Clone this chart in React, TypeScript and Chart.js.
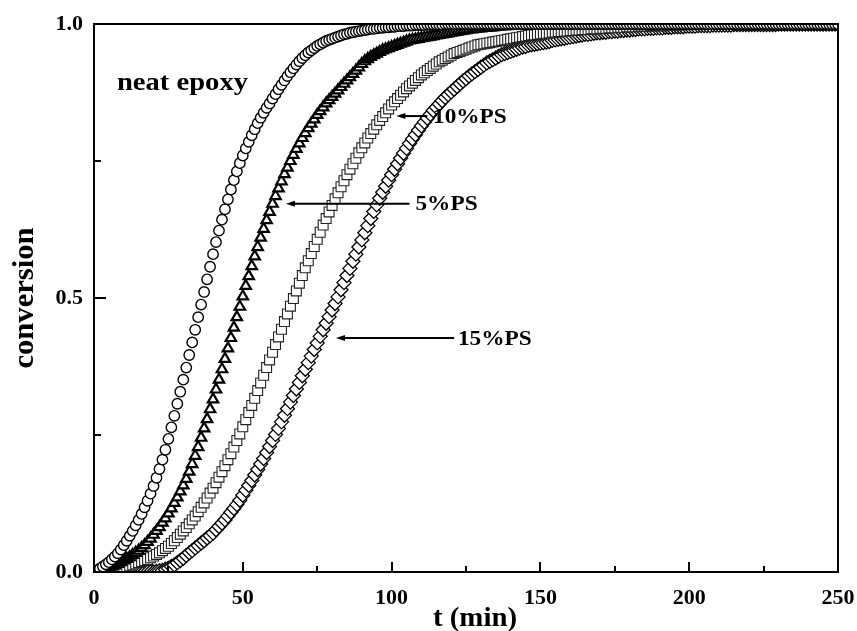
import React, { useEffect, useRef } from 'react';
import { Chart, registerables } from 'chart.js';

Chart.register(...registerables);

// sampling grid: one reading per minute, 0..250 min
const times = Array.from({ length: 251 }, (_, i) => i);

const xTickValues = [0, 50, 100, 150, 200, 250];
const xMinorTicks = [25, 75, 125, 175, 225];
const yTickValues = [0, 0.5, 1];
const yMinorTicks = [0.25, 0.75];

const neatEpoxy = [
  0.000, 0.003, 0.006, 0.010, 0.014, 0.018, 0.023, 0.028, 0.034, 0.041,
  0.049, 0.057, 0.066, 0.075, 0.085, 0.095, 0.106, 0.118, 0.130, 0.143,
  0.157, 0.172, 0.188, 0.205, 0.223, 0.243, 0.264, 0.285, 0.307, 0.329,
  0.351, 0.373, 0.396, 0.419, 0.442, 0.465, 0.488, 0.511, 0.534, 0.557,
  0.580, 0.602, 0.623, 0.643, 0.662, 0.680, 0.698, 0.715, 0.731, 0.746,
  0.760, 0.773, 0.785, 0.797, 0.808, 0.819, 0.829, 0.838, 0.847, 0.855,
  0.864, 0.872, 0.881, 0.889, 0.897, 0.905, 0.912, 0.919, 0.926, 0.932,
  0.938, 0.943, 0.948, 0.952, 0.956, 0.960, 0.963, 0.966, 0.969, 0.971,
  0.973, 0.975, 0.977, 0.979, 0.981, 0.982, 0.984, 0.985, 0.986, 0.987,
  0.988, 0.989, 0.990, 0.991, 0.991, 0.992, 0.993, 0.993, 0.994, 0.994,
  0.995, 0.995, 0.996, 0.996, 0.996, 0.997, 0.997, 0.997, 0.998, 0.998,
  0.998, 0.998, 0.999, 0.999, 0.999, 0.999, 0.999, 0.999, 1, 1,
  1, 1, 1, 1, 1, 1, 1, 1, 1, 1,
  1, 1, 1, 1, 1, 1, 1, 1, 1, 1,
  1, 1, 1, 1, 1, 1, 1, 1, 1, 1,
  1, 1, 1, 1, 1, 1, 1, 1, 1, 1,
  1, 1, 1, 1, 1, 1, 1, 1, 1, 1,
  1, 1, 1, 1, 1, 1, 1, 1, 1, 1,
  1, 1, 1, 1, 1, 1, 1, 1, 1, 1,
  1, 1, 1, 1, 1, 1, 1, 1, 1, 1,
  1, 1, 1, 1, 1, 1, 1, 1, 1, 1,
  1, 1, 1, 1, 1, 1, 1, 1, 1, 1,
  1, 1, 1, 1, 1, 1, 1, 1, 1, 1,
  1, 1, 1, 1, 1, 1, 1, 1, 1, 1,
  1, 1, 1, 1, 1, 1, 1, 1, 1, 1,
  1,
];

const ps5 = [
  0.000, 0.001, 0.002, 0.004, 0.006, 0.008, 0.010, 0.012, 0.015, 0.018,
  0.021, 0.024, 0.027, 0.031, 0.035, 0.039, 0.044, 0.049, 0.055, 0.061,
  0.068, 0.075, 0.082, 0.090, 0.098, 0.107, 0.116, 0.126, 0.136, 0.147,
  0.158, 0.170, 0.183, 0.197, 0.212, 0.228, 0.245, 0.262, 0.279, 0.297,
  0.315, 0.333, 0.351, 0.370, 0.389, 0.408, 0.427, 0.446, 0.465, 0.484,
  0.503, 0.522, 0.540, 0.558, 0.576, 0.593, 0.610, 0.626, 0.642, 0.657,
  0.672, 0.686, 0.700, 0.713, 0.726, 0.738, 0.750, 0.761, 0.772, 0.782,
  0.792, 0.801, 0.810, 0.818, 0.826, 0.834, 0.841, 0.848, 0.855, 0.861,
  0.867, 0.873, 0.879, 0.885, 0.891, 0.897, 0.903, 0.909, 0.915, 0.921,
  0.927, 0.932, 0.936, 0.940, 0.943, 0.946, 0.949, 0.952, 0.954, 0.956,
  0.958, 0.960, 0.962, 0.964, 0.966, 0.968, 0.970, 0.971, 0.972, 0.973,
  0.974, 0.975, 0.976, 0.977, 0.978, 0.979, 0.980, 0.981, 0.982, 0.983,
  0.984, 0.985, 0.986, 0.987, 0.988, 0.989, 0.990, 0.990, 0.991, 0.992,
  0.992, 0.993, 0.993, 0.994, 0.994, 0.995, 0.995, 0.996, 0.996, 0.996,
  0.997, 0.997, 0.997, 0.998, 0.998, 0.998, 0.998, 0.999, 0.999, 0.999,
  0.999, 1, 1, 1, 1, 1, 1, 1, 1, 1,
  1, 1, 1, 1, 1, 1, 1, 1, 1, 1,
  1, 1, 1, 1, 1, 1, 1, 1, 1, 1,
  1, 1, 1, 1, 1, 1, 1, 1, 1, 1,
  1, 1, 1, 1, 1, 1, 1, 1, 1, 1,
  1, 1, 1, 1, 1, 1, 1, 1, 1, 1,
  1, 1, 1, 1, 1, 1, 1, 1, 1, 1,
  1, 1, 1, 1, 1, 1, 1, 1, 1, 1,
  1, 1, 1, 1, 1, 1, 1, 1, 1, 1,
  1, 1, 1, 1, 1, 1, 1, 1, 1, 1,
  1,
];

const ps10 = [
  0.000, 0.000, 0.001, 0.002, 0.003, 0.004, 0.005, 0.006, 0.007, 0.008,
  0.009, 0.010, 0.011, 0.013, 0.015, 0.017, 0.019, 0.021, 0.023, 0.026,
  0.029, 0.032, 0.035, 0.039, 0.043, 0.047, 0.052, 0.057, 0.063, 0.069,
  0.075, 0.081, 0.088, 0.095, 0.102, 0.110, 0.118, 0.126, 0.135, 0.144,
  0.153, 0.163, 0.173, 0.183, 0.194, 0.205, 0.216, 0.228, 0.240, 0.252,
  0.265, 0.278, 0.291, 0.304, 0.317, 0.331, 0.345, 0.359, 0.373, 0.387,
  0.401, 0.415, 0.429, 0.443, 0.457, 0.471, 0.485, 0.499, 0.513, 0.527,
  0.541, 0.555, 0.568, 0.581, 0.594, 0.607, 0.620, 0.633, 0.645, 0.657,
  0.669, 0.681, 0.692, 0.703, 0.714, 0.725, 0.735, 0.745, 0.755, 0.765,
  0.774, 0.783, 0.792, 0.800, 0.808, 0.816, 0.824, 0.831, 0.838, 0.845,
  0.852, 0.858, 0.864, 0.870, 0.876, 0.882, 0.887, 0.892, 0.897, 0.902,
  0.907, 0.911, 0.915, 0.919, 0.923, 0.927, 0.931, 0.934, 0.937, 0.940,
  0.943, 0.946, 0.948, 0.950, 0.952, 0.954, 0.956, 0.958, 0.960, 0.962,
  0.963, 0.964, 0.965, 0.966, 0.967, 0.968, 0.969, 0.970, 0.971, 0.972,
  0.973, 0.974, 0.975, 0.976, 0.977, 0.978, 0.979, 0.980, 0.980, 0.981,
  0.982, 0.983, 0.983, 0.984, 0.985, 0.985, 0.986, 0.986, 0.987, 0.987,
  0.988, 0.988, 0.989, 0.989, 0.990, 0.990, 0.990, 0.991, 0.991, 0.991,
  0.992, 0.992, 0.992, 0.993, 0.993, 0.993, 0.994, 0.994, 0.994, 0.995,
  0.995, 0.995, 0.995, 0.996, 0.996, 0.996, 0.996, 0.997, 0.997, 0.997,
  0.997, 0.997, 0.998, 0.998, 0.998, 0.998, 0.998, 0.998, 0.999, 0.999,
  0.999, 0.999, 0.999, 0.999, 0.999, 1, 1, 1, 1, 1,
  1, 1, 1, 1, 1, 1, 1, 1, 1, 1,
  1, 1, 1, 1, 1, 1, 1, 1, 1, 1,
  1, 1, 1, 1, 1, 1, 1, 1, 1, 1,
  1, 1, 1, 1, 1, 1, 1, 1, 1, 1,
  1,
];

const ps15 = [
  0, 0, 0, 0, 0, 0, 0, 0, 0, 0,
  0, 0, 0, 0, 0, 0, 0, 0, 0, 0,
  0.000, 0.001, 0.002, 0.003, 0.005, 0.007, 0.010, 0.013, 0.017, 0.021,
  0.025, 0.030, 0.035, 0.039, 0.044, 0.048, 0.053, 0.057, 0.062, 0.066,
  0.071, 0.077, 0.083, 0.089, 0.095, 0.102, 0.109, 0.116, 0.123, 0.131,
  0.140, 0.149, 0.158, 0.167, 0.177, 0.187, 0.197, 0.207, 0.218, 0.229,
  0.240, 0.251, 0.262, 0.274, 0.286, 0.298, 0.310, 0.322, 0.334, 0.346,
  0.358, 0.370, 0.382, 0.394, 0.406, 0.418, 0.430, 0.442, 0.454, 0.466,
  0.478, 0.490, 0.502, 0.515, 0.528, 0.541, 0.554, 0.567, 0.580, 0.593,
  0.606, 0.619, 0.632, 0.645, 0.658, 0.670, 0.682, 0.693, 0.704, 0.715,
  0.725, 0.735, 0.745, 0.755, 0.764, 0.773, 0.782, 0.790, 0.798, 0.806,
  0.814, 0.821, 0.828, 0.835, 0.842, 0.848, 0.854, 0.860, 0.866, 0.871,
  0.876, 0.881, 0.886, 0.891, 0.896, 0.900, 0.905, 0.909, 0.913, 0.917,
  0.921, 0.925, 0.929, 0.932, 0.935, 0.938, 0.941, 0.944, 0.946, 0.948,
  0.950, 0.952, 0.954, 0.956, 0.958, 0.959, 0.961, 0.962, 0.963, 0.964,
  0.965, 0.966, 0.967, 0.968, 0.970, 0.971, 0.972, 0.973, 0.974, 0.975,
  0.976, 0.977, 0.978, 0.979, 0.980, 0.981, 0.981, 0.982, 0.983, 0.984,
  0.984, 0.985, 0.985, 0.986, 0.986, 0.987, 0.987, 0.988, 0.988, 0.989,
  0.989, 0.990, 0.990, 0.991, 0.991, 0.991, 0.992, 0.992, 0.992, 0.993,
  0.993, 0.993, 0.994, 0.994, 0.994, 0.995, 0.995, 0.995, 0.995, 0.996,
  0.996, 0.996, 0.996, 0.997, 0.997, 0.997, 0.997, 0.997, 0.998, 0.998,
  0.998, 0.998, 0.998, 0.998, 0.998, 0.999, 0.999, 0.999, 0.999, 0.999,
  0.999, 0.999, 0.999, 0.999, 0.999, 0.999, 0.999, 0.999, 0.999, 0.999,
  1, 1, 1, 1, 1, 1, 1, 1, 1, 1,
  1, 1, 1, 1, 1, 1, 1, 1, 1, 1,
  1,
];

const seriesLabels = ['neat epoxy', '5%PS', '10%PS', '15%PS'];

// arrow annotations: label, arrow tip (t, conversion), arrow tail t, text start t
const arrowLabels = ['10%PS', '5%PS', '15%PS'];
const arrowTipX = [101.6, 64.5, 81.3];
const arrowY = [0.832, 0.672, 0.427];
const arrowTailX = [112.0, 106.0, 121.0];
const arrowTextX = [113.9, 108.0, 122.3];

const titleText = 'neat epoxy';
const titleAt = [7.7, 0.892];

const FONT = '"Liberation Serif", "Times New Roman", Times, serif';

function stretchedText(ctx: CanvasRenderingContext2D, text: string, x: number, y: number, size: number, sx: number, align: CanvasTextAlign) {
  ctx.save();
  ctx.font = `bold ${size}px ${FONT}`;
  ctx.fillStyle = '#000';
  ctx.textAlign = align;
  ctx.textBaseline = 'middle';
  ctx.translate(x, y);
  ctx.scale(sx, 1);
  ctx.fillText(text, 0, 0);
  ctx.restore();
}

export default function App() {
  const ref = useRef<HTMLCanvasElement>(null);

  useEffect(() => {
    document.body.style.margin = '0';
    const canvas = ref.current;
    if (!canvas) return;
    const pts = (vals: number[]) => vals.map((v, i) => ({ x: times[i], y: v }));

    const decor = {
      id: 'decor',
      afterDraw(chart: any) {
        const ctx: CanvasRenderingContext2D = chart.ctx;
        const { left, right, top, bottom } = chart.chartArea;
        const xs = chart.scales.x;
        const ys = chart.scales.y;
        ctx.save();
        ctx.strokeStyle = '#000';
        ctx.lineWidth = 2;
        ctx.strokeRect(left, top, right - left, bottom - top);
        // inward ticks
        ctx.beginPath();
        xTickValues.forEach((v) => {
          const px = Math.round(xs.getPixelForValue(v));
          ctx.moveTo(px, bottom);
          ctx.lineTo(px, bottom - 10);
        });
        xMinorTicks.forEach((v) => {
          const px = Math.round(xs.getPixelForValue(v));
          ctx.moveTo(px, bottom);
          ctx.lineTo(px, bottom - 6);
        });
        yTickValues.forEach((v) => {
          const py = Math.round(ys.getPixelForValue(v));
          ctx.moveTo(left, py);
          ctx.lineTo(left + 12, py);
        });
        yMinorTicks.forEach((v) => {
          const py = Math.round(ys.getPixelForValue(v));
          ctx.moveTo(left, py);
          ctx.lineTo(left + 7, py);
        });
        ctx.stroke();

        // arrows
        arrowLabels.forEach((label, i) => {
          const y = ys.getPixelForValue(arrowY[i]);
          const tip = xs.getPixelForValue(arrowTipX[i]);
          const tail = xs.getPixelForValue(arrowTailX[i]);
          ctx.beginPath();
          ctx.lineWidth = 2;
          ctx.moveTo(tip + 6, y);
          ctx.lineTo(tail, y);
          ctx.stroke();
          ctx.beginPath();
          ctx.moveTo(tip, y);
          ctx.lineTo(tip + 9, y - 3);
          ctx.lineTo(tip + 9, y + 3);
          ctx.closePath();
          ctx.fillStyle = '#000';
          ctx.fill();
          stretchedText(ctx, label, xs.getPixelForValue(arrowTextX[i]), y + 1, 22, 1.06, 'left');
        });

        stretchedText(ctx, titleText, xs.getPixelForValue(titleAt[0]), ys.getPixelForValue(titleAt[1]), 26, 1.1, 'left');

        // axis titles
        stretchedText(ctx, 't (min)', (left + right) / 2 + 9, 619, 28, 1.03, 'center');
        ctx.save();
        ctx.translate(25, (top + bottom) / 2);
        ctx.rotate(-Math.PI / 2);
        stretchedText(ctx, 'conversion', 0, 0, 30, 1.02, 'center');
        ctx.restore();
        ctx.restore();
      },
    };

    const chart = new Chart(canvas, {
      type: 'scatter',
      data: {
        datasets: [
          {
            label: seriesLabels[0],
            data: pts(neatEpoxy),
            pointStyle: 'circle',
            pointRadius: 5.2,
            borderWidth: 1.4,
            borderColor: '#000',
            backgroundColor: '#fff',
            showLine: false,
          },
          {
            label: seriesLabels[1],
            data: pts(ps5),
            pointStyle: 'triangle',
            pointRadius: 6,
            borderWidth: 2.2,
            borderColor: '#000',
            backgroundColor: '#fff',
            showLine: false,
          },
          {
            label: seriesLabels[2],
            data: pts(ps10),
            pointStyle: 'rect',
            pointRadius: 7,
            borderWidth: 1.1,
            borderColor: '#222',
            backgroundColor: '#fff',
            showLine: false,
          },
          {
            label: seriesLabels[3],
            data: pts(ps15),
            pointStyle: 'rectRot',
            pointRadius: 7,
            borderWidth: 1.3,
            borderColor: '#000',
            backgroundColor: '#fff',
            showLine: false,
          },
        ],
      },
      options: {
        responsive: false,
        animation: false,
        devicePixelRatio: 1,
        events: [],
        layout: { padding: { top: 24, right: 19, left: 0, bottom: 0 } },
        plugins: { legend: { display: false }, tooltip: { enabled: false } },
        scales: {
          x: {
            type: 'linear',
            min: 0,
            max: 250,
            afterBuildTicks: (s: any) => {
              s.ticks = xTickValues.map((v) => ({ value: v }));
            },
            afterFit: (s: any) => {
              s.height = 59;
              s.paddingLeft = 0;
              s.paddingRight = 0;
            },
            grid: { display: false, drawTicks: false },
            border: { display: false },
            ticks: {
              color: '#000',
              padding: 13,
              maxRotation: 0,
              font: { family: FONT, size: 22, weight: 'bold' },
              callback: (v: any) => String(v),
            },
          },
          y: {
            type: 'linear',
            min: 0,
            max: 1,
            afterBuildTicks: (s: any) => {
              s.ticks = yTickValues.map((v) => ({ value: v }));
            },
            afterFit: (s: any) => {
              s.width = 94;
              s.paddingTop = 0;
              s.paddingBottom = 0;
            },
            grid: { display: false, drawTicks: false },
            border: { display: false },
            ticks: {
              color: '#000',
              padding: 11,
              font: { family: FONT, size: 22, weight: 'bold' },
              callback: (v: any) => Number(v).toFixed(1),
            },
          },
        },
      },
      plugins: [decor],
    } as any);

    return () => chart.destroy();
  }, []);

  return (
    <div style={{ width: 857, height: 631 }}>
      <canvas ref={ref} width={857} height={631} style={{ display: 'block' }} />
    </div>
  );
}
